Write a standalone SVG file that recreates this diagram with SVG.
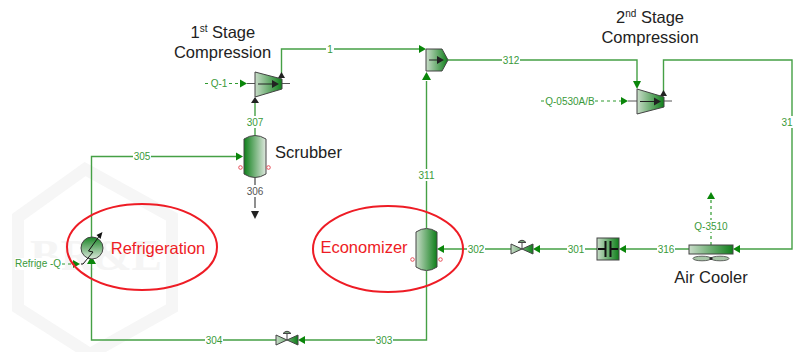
<svg xmlns="http://www.w3.org/2000/svg" width="793" height="352" viewBox="0 0 793 352">
<style>
text{font-family:"Liberation Sans",Arial,sans-serif}
.s{fill:none;stroke:#45a045;stroke-width:1.4}
.d{fill:none;stroke:#2f9a2f;stroke-width:1.2;stroke-dasharray:3 3}
.l{font-size:10px;fill:#3a9a3a;text-anchor:middle}
.big{font-size:16.500px;fill:#222;text-anchor:middle}
.st{font-size:16.500px;fill:#222}
.red{font-size:16.500px;fill:#ee1c25;text-anchor:middle}
.ring{fill:none;stroke:#ee1c25;stroke-width:2}
.eq{stroke:#444;stroke-width:1}
.port{fill:none;stroke:#e8505b;stroke-width:1}
.a{fill:#0a860a}
.k{fill:#222}
.bg{fill:#fff;stroke:none}
</style>
<defs>
<linearGradient id="gL" x1="0" x2="1" y1="0" y2="0"><stop offset="0" stop-color="#c9dcc9"/><stop offset="1" stop-color="#0f7f1a"/></linearGradient>
<linearGradient id="gR" x1="0" x2="1" y1="0" y2="0"><stop offset="0" stop-color="#0f7f1a"/><stop offset="1" stop-color="#dfe8df"/></linearGradient>
<linearGradient id="gC" x1="0" x2="0" y1="0" y2="1"><stop offset="0" stop-color="#1a8526"/><stop offset="1" stop-color="#dbe8db"/></linearGradient>
</defs>
<g id="watermark">
<polygon points="85,169 172,217 172,308 90,354 18,308 18,217" fill="none" stroke="#f6f6f6" stroke-width="12"/>
<text x="30" y="270" font-size="44" style="font-family:'Liberation Serif',serif;fill:#f5f5f5;font-weight:bold" textLength="132" lengthAdjust="spacingAndGlyphs">BR&amp;E</text>
</g>
<g id="connectors">
<path class="s" d="M91.500 238V156.500H237"/>
<path class="s" d="M91.500 262V340H278"/>
<path class="s" d="M303 340H426.500V271"/>
<path class="s" d="M426.500 228V81"/>
<path class="s" d="M255 135V103"/>
<path class="s" d="M281.500 76V49H420"/>
<path class="s" d="M448 60H637V82"/>
<path class="s" d="M663.500 92V60H792V249H739"/>
<path class="s" d="M689 249H626"/>
<path class="s" d="M597 249H540"/>
<path class="s" d="M511 249H444"/>
<path class="d" d="M62 264H75"/>
<path class="d" d="M205 83.500H240"/>
<path class="d" d="M541 101H622"/>
<path class="d" d="M711 245V198"/>
<path d="M255 178V208" fill="none" stroke="#444" stroke-width="1.200"/>
<path d="M243 156.500L236 152.500V160.500Z" class="a"/>
<path d="M91.500 256L87 264H96Z" class="a"/>
<path d="M80 264L73 260V268Z" class="a"/>
<path d="M426 49L419 45V53Z" class="a"/>
<path d="M426.500 72L422 80H431Z" class="a"/>
<path d="M637 89L633 81H641Z" class="a"/>
<path d="M628 101L621 97V105Z" class="a"/>
<path d="M733 249L740 245V253Z" class="a"/>
<path d="M619 249L626 245V253Z" class="a"/>
<path d="M533 249L540 245V253Z" class="a"/>
<path d="M437 249L444 245V253Z" class="a"/>
<path d="M298 340L305 336V344Z" class="a"/>
<path d="M711 192L707 199H715Z" class="a"/>
<path d="M247 83.500L240 79.500V87.500Z" class="a"/>
<path d="M255 97L251 103H259Z" class="k"/>
<path d="M281.500 72L278 78H285Z" class="k"/>
<path d="M663.500 90L660 96H667Z" class="k"/>
<path d="M255 219L251 211H259Z" class="k"/>
</g>
<g id="stream-labels">
<rect class="bg" x="133" y="150" width="18" height="12"/><text class="l" x="142" y="160">305</text>
<rect class="bg" x="205" y="334" width="18" height="12"/><text class="l" x="214" y="343.500">304</text>
<rect class="bg" x="375" y="334" width="18" height="12"/><text class="l" x="384" y="343.500">303</text>
<rect class="bg" x="467" y="243" width="18" height="12"/><text class="l" x="476" y="252.500">302</text>
<rect class="bg" x="567" y="243" width="18" height="12"/><text class="l" x="576" y="252.500">301</text>
<rect class="bg" x="657" y="243" width="18" height="12"/><text class="l" x="666" y="252.500">316</text>
<rect class="bg" x="417" y="169" width="19" height="12"/><text class="l" x="426.500" y="178.500">311</text>
<rect class="bg" x="246" y="116" width="18" height="12"/><text class="l" x="255" y="125.500">307</text>
<rect class="bg" x="246" y="185" width="18" height="12"/><text class="l" x="255" y="195" style="fill:#555">306</text>
<rect class="bg" x="326" y="43" width="8" height="12"/><text class="l" x="330" y="52.500">1</text>
<rect class="bg" x="502" y="54" width="18" height="12"/><text class="l" x="511" y="63.500">312</text>
<rect class="bg" x="781" y="116" width="12" height="12"/><text class="l" x="781.500" y="125.500" style="text-anchor:start">31</text>
<rect class="bg" x="15" y="258" width="47" height="12"/><text class="l" x="15" y="267" style="text-anchor:start">Refrige -Q</text>
<rect class="bg" x="210" y="78" width="18" height="12"/><text class="l" x="219" y="87">Q-1</text>
<rect class="bg" x="546" y="95" width="48" height="12"/><text class="l" x="570" y="104.500">Q-0530A/B</text>
<rect class="bg" x="694" y="220" width="34" height="12"/><text class="l" x="711" y="229.500">Q-3510</text>
</g>
<g id="refrigeration">
<ellipse class="ring" cx="142" cy="247" rx="75" ry="43"/>
<text class="red" x="158" y="254">Refrigeration</text>
<circle cx="92" cy="248" r="11" fill="url(#gC)" stroke="#444"/>
<path d="M81 264H83L93 252L88.500 251L100 235" fill="none" stroke="#111" stroke-width="1"/>
<path d="M102.500 232L96.500 235L100.500 239Z" fill="#111"/>
</g>
<g id="scrubber">
<path class="eq" fill="url(#gR)" d="M244 139Q255 132 266 139V174Q255 181 244 174Z"/>
<circle class="port" cx="240.500" cy="167.500" r="1.800"/>
<circle class="port" cx="268.500" cy="167.500" r="1.800"/>
<text class="big" x="308.500" y="158">Scrubber</text>
</g>
<g id="compressor-1">
<path d="M247 83.500H290" stroke="#555" fill="none"/>
<polygon class="eq" fill="url(#gL)" points="255,72 282,79 282,89 255,97"/>
<path d="M258 84H276" stroke="#222" fill="none"/><path d="M279 84L272 80V88Z" class="k"/>
<text class="st" x="190.500" y="38">1<tspan dy="-6" font-size="10">st</tspan><tspan dy="6"> Stage</tspan></text>
<text class="big" x="222.500" y="58">Compression</text>
</g>
<g id="mixer">
<polygon class="eq" fill="url(#gL)" points="426,49 442,49 448,60 442,71 426,71"/>
<path d="M429 60H440" stroke="#222" fill="none"/><path d="M444 60L437 56V64Z" class="k"/>
</g>
<g id="compressor-2">
<path d="M628 101H672" stroke="#555" fill="none"/>
<polygon class="eq" fill="url(#gL)" points="637,89 664,97 664,107 637,114"/>
<path d="M640 101.500H657" stroke="#222" fill="none"/><path d="M661 101.500L654 97.500V105.500Z" class="k"/>
<text class="st" x="616" y="23">2<tspan dy="-6" font-size="10">nd</tspan><tspan dy="6"> Stage</tspan></text>
<text class="big" x="650" y="43">Compression</text>
</g>
<g id="air-cooler">
<rect class="eq" x="689" y="245" width="44" height="9" fill="url(#gL)"/>
<ellipse cx="702" cy="258.500" rx="9" ry="2.300" fill="#a8c8a8" stroke="#444" stroke-width="0.800"/>
<ellipse cx="720" cy="258.500" rx="9" ry="2.300" fill="#a8c8a8" stroke="#444" stroke-width="0.800"/>
<circle cx="711" cy="258.500" r="1.500" fill="#222"/>
<text class="big" x="711" y="283">Air Cooler</text>
</g>
<g id="exchanger">
<rect class="eq" x="597" y="238" width="22" height="22" fill="url(#gL)"/>
<path d="M598 249H605M618 249H611M605.500 241V257M610.500 241V257" stroke="#111" stroke-width="2" fill="none"/>
</g>
<g id="valve-1">
<path class="eq" fill="url(#gL)" d="M511 244L533 254V244L511 254Z"/>
<path d="M522 249V243M518 242.500Q522 238 526 242.500Z" class="eq" fill="#7da87d"/>
</g>
<g id="economizer">
<ellipse class="ring" cx="388" cy="249" rx="75" ry="43"/>
<text class="red" x="364" y="253">Economizer</text>
<path class="eq" fill="url(#gL)" d="M416 232Q426.500 225 437 232V267Q426.500 274 416 267Z"/>
<circle class="port" cx="412.500" cy="259.500" r="1.800"/>
<circle class="port" cx="440.500" cy="259.500" r="1.800"/>
</g>
<g id="valve-2">
<path class="eq" fill="url(#gL)" d="M276 335L298 345V335L276 345Z"/>
<path d="M287 340V334M283 333.500Q287 329 291 333.500Z" class="eq" fill="#7da87d"/>
</g>
</svg>
